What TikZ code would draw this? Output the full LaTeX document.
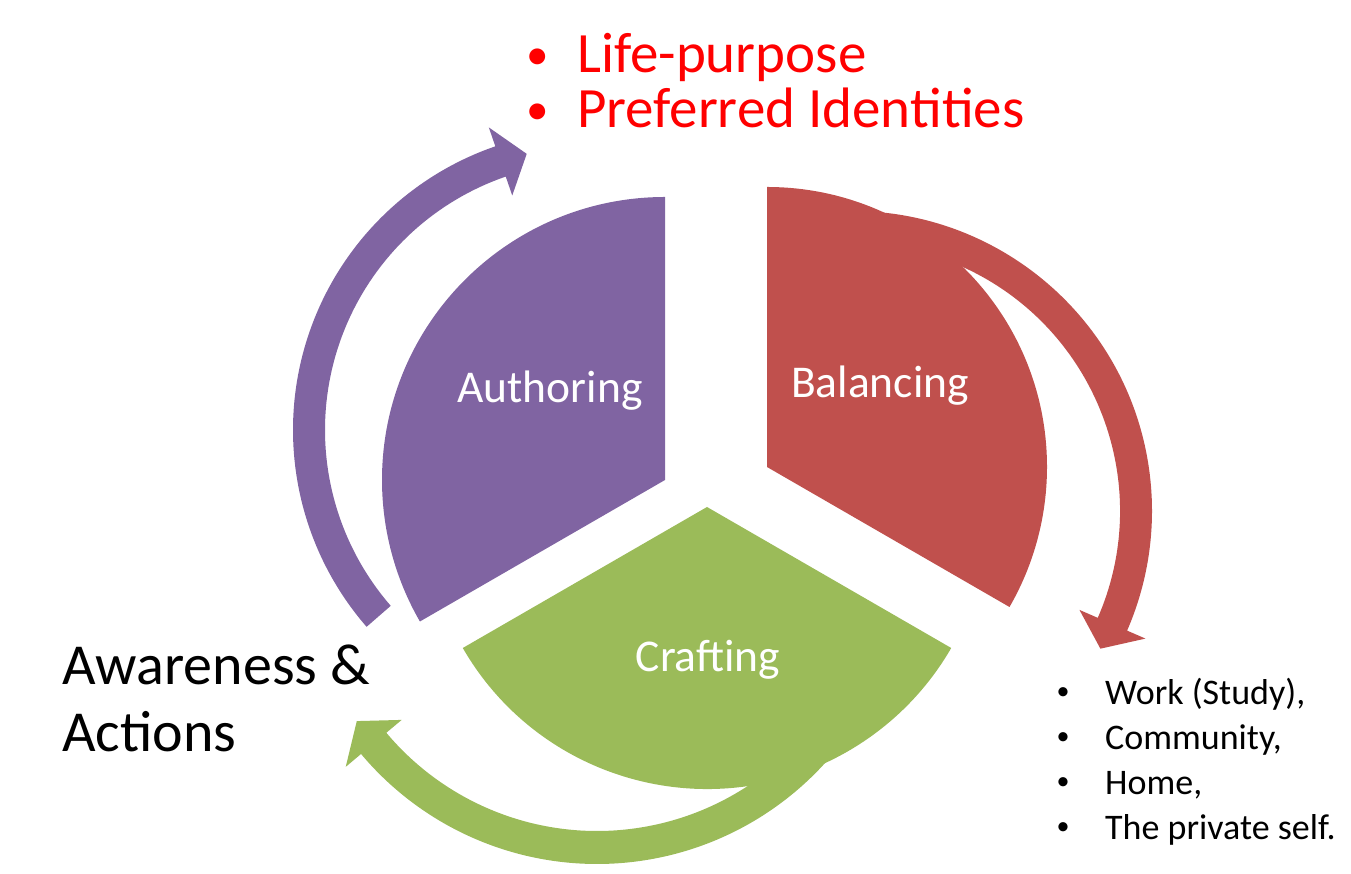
\documentclass[tikz,border=0pt]{standalone}
\usepackage{fontspec}
\setmainfont{Carlito}
\usepackage{tikz}
\definecolor{authorc}{HTML}{8064A2}
\definecolor{balancec}{HTML}{C0504D}
\definecolor{craftc}{HTML}{9BBB59}
% #1 colour, #2 centre, #3 tail angle, #4 head angle, #5 tip angle, #6 outer radius, #7 inner radius
\newcommand{\bentarrow}[7]{%
	\fill[#1,shift={(#2)}] (#3:#6) arc[start angle=#3,end angle=#4,radius=#6]
		-- (#4:{#6+20}) -- (#5:{(#6+#7)/2}) -- (#4:{#7-20})
		-- (#4:#7) arc[start angle=#4,end angle=#3,radius=#7] -- cycle;}

\begin{document}
\begin{tikzpicture}[x=1pt,y=1pt,
	wedgetext/.style={text=white,font=\fontsize{45.5}{52}\selectfont,anchor=base,inner sep=0pt},
	goaltext/.style={text=red,font=\fontsize{57}{64}\selectfont,anchor=base west,inner sep=0pt},
	goalbullet/.style={text=red,font=\fontsize{45}{50}\selectfont,anchor=base,inner sep=0pt},
	sidetext/.style={font=\fontsize{58}{66}\selectfont,anchor=base west,inner sep=0pt},
	areatext/.style={font=\fontsize{36}{44}\selectfont,anchor=base west,inner sep=0pt},
	areabullet/.style={font=\fontsize{26}{30}\selectfont,anchor=base,inner sep=0pt}]
		\useasboundingbox (0,0) rectangle (1351,874);
		\coordinate (ca) at (593,444);
		\coordinate (cb) at (852,363);
		\coordinate (cc) at (597,318);
		\coordinate (wa) at (665,394);
		\coordinate (wb) at (767,407);
		\coordinate (wc) at (707,367);
		
		\bentarrow{authorc}{ca}{221}{109}{103.5}{300}{268}
		\bentarrow{balancec}{cb}{95}{-23.5}{-29}{300}{268}
		\bentarrow{craftc}{cc}{325}{220}{214.5}{308}{275}
		
		\fill[authorc] (wa) -- ++(90:283) arc[start angle=90,end angle=210,radius=283] -- cycle;
		\fill[balancec] (wb) -- ++(90:280) arc[start angle=90,end angle=-30,radius=280] -- cycle;
		\fill[craftc] (wc) -- ++(210:282) arc[start angle=210,end angle=330,radius=282] -- cycle;
		
		\node[wedgetext] (author) at (550,471) {Authoring};
		\node[wedgetext] (balance) at (880,476) {Balancing};
		\node[wedgetext] (craft) at (708,202) {Crafting};
		
		\node[goalbullet] (gb1) at (538,804) {\textbullet};
		\node[goaltext] (g1) at (577,801) {Life-purpose};
		\node[goalbullet] (gb2) at (538,749) {\textbullet};
		\node[goaltext] (g2) at (577,746) {Preferred Identities};
		
		\node[sidetext] (aw1) at (62,189) {Awareness \&};
		\node[sidetext] (aw2) at (62,122) {Actions};
		
		\foreach \t [count=\i] in {{Work (Study),},{Community,},{Home,},{The private self.}}{
			\node[areabullet] (ab\i) at (1063,{219-45*\i}) {\textbullet};
			\node[areatext] (area\i) at (1105,{214-45*\i}) {\t};
		}
\end{tikzpicture}
\end{document}
